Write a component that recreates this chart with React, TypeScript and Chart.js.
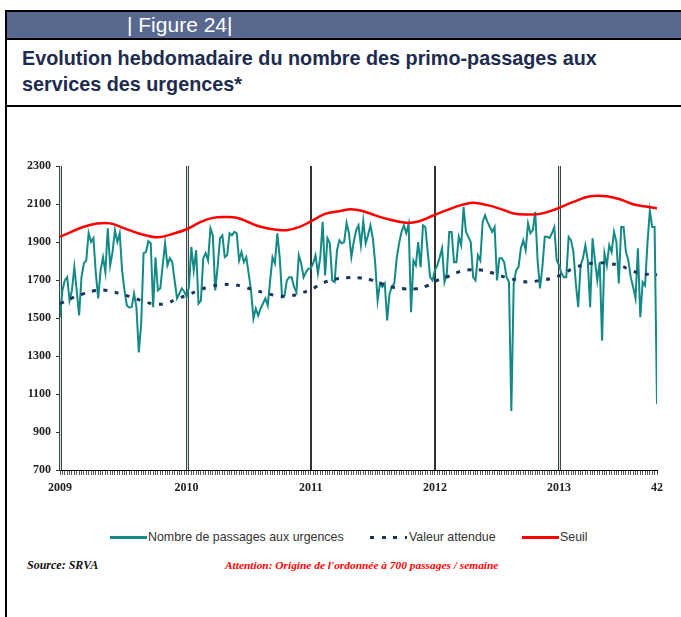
import React, { useEffect, useRef } from "react";
import { Chart, registerables } from "chart.js";

Chart.register(...registerables);

// ---- Data ----
const yearLabels = ["2009", "2010", "2011", "2012", "2013", "42"];
const yearTickWeeks = [0, 53, 105, 157, 209, 250];

const passages2009 = [
  1504, 1645, 1698, 1715, 1592, 1645, 1768, 1645, 1513, 1715, 1787, 1803, 1946, 1900, 1920, 1735, 1603, 1751, 1820, 1741,
  1972, 1777, 1847, 1962, 1900, 1946, 1751, 1645, 1566, 1555, 1557, 1629, 1557, 1319, 1471, 1841, 1847, 1904, 1893, 1557,
  1820, 1645, 1656, 1777, 1893, 1777, 1815, 1794, 1698, 1603, 1629, 1656, 1640,
];
const passages2010 = [
  1610, 1663, 1874, 1751, 1857, 1576, 1592, 1815, 1841, 1803, 1972, 1935, 1645, 1768, 1920, 1935, 1820, 1830, 1946, 1935,
  1953, 1946, 1803, 1847, 1794, 1820, 1735, 1645, 1497, 1550, 1513, 1550, 1576, 1603, 1566, 1698, 1820, 1787, 1946, 1820,
  1610, 1619, 1698, 1715, 1715, 1663, 1636, 1830, 1787, 1715, 1741, 1760,
];
const passages2011 = [
  1761, 1787, 1830, 1735, 1820, 2006, 1724, 1920, 1893, 1698, 1689, 1857, 1909, 1893, 1900, 2000, 1946, 1820, 1900, 1962,
  1988, 1883, 2011, 1893, 1935, 1988, 1920, 1787, 1592, 1682, 1663, 1682, 1487, 1629, 1663, 1682, 1815, 1893, 1953, 1988,
  1946, 1995, 1531, 1803, 1777, 1900, 1768, 1988, 1979, 1847, 1715, 1698,
];
const passages2012 = [
  1751, 1777, 1820, 1867, 1689, 1735, 1953, 1953, 1794, 1794, 1927, 1883, 2085, 1953, 1927, 1900, 1715, 1698, 1830, 1803,
  2006, 2041, 2006, 1979, 1953, 1979, 1698, 1815, 1815, 1794, 1715, 1689, 1011, 1682, 1751, 1768, 1867, 1909, 1857, 1998,
  1946, 1962, 2059, 1803, 1656, 1768, 1927, 1927, 1921, 1946, 1979, 1803,
];
const passages2013 = [
  1777, 1735, 1715, 1715, 1927, 1909, 1847, 1682, 1557, 1777, 1815, 1883, 1803, 1557, 1920, 1803, 1698, 1794, 1381, 1841,
  1777, 1883, 1847, 1953, 1900, 1682, 1979, 1979, 1847, 1803, 1715, 1663, 1603, 1867, 1504, 1689, 1671, 1893, 2064, 1979,
  1979, 1048,
];

const seuilWeeks = [0, 5, 10, 15, 21, 27, 33, 41, 48, 53, 59, 64, 69, 74, 79, 84, 90, 95, 100, 105, 111, 117, 122, 127, 132, 138, 145, 150, 156, 162, 168, 173, 179, 185, 190, 196, 201, 207, 215, 222, 229, 235, 240, 246, 250];
const seuilValues = [1927, 1955, 1980, 1996, 1998, 1972, 1945, 1925, 1946, 1967, 2006, 2027, 2032, 2028, 2004, 1980, 1966, 1962, 1978, 2008, 2048, 2062, 2073, 2062, 2040, 2018, 2001, 2008, 2038, 2068, 2094, 2106, 2094, 2072, 2050, 2045, 2048, 2070, 2111, 2141, 2141, 2122, 2099, 2085, 2078];

const attenduWeeks = [0, 6, 10, 15, 20, 25, 30, 34, 39, 44, 49, 53, 58, 63, 68, 73, 77, 82, 87, 92, 96, 101, 106, 110, 115, 120, 125, 130, 135, 139, 144, 149, 154, 158, 163, 168, 172, 177, 182, 187, 192, 196, 201, 206, 211, 215, 220, 225, 230, 235, 239, 244, 250];
const attenduValues = [1575, 1610, 1628, 1645, 1645, 1628, 1610, 1592, 1575, 1575, 1601, 1619, 1645, 1666, 1675, 1675, 1663, 1645, 1628, 1615, 1615, 1631, 1656, 1684, 1703, 1712, 1712, 1701, 1680, 1663, 1654, 1654, 1671, 1698, 1721, 1747, 1754, 1751, 1733, 1712, 1698, 1689, 1698, 1709, 1733, 1763, 1781, 1791, 1786, 1774, 1751, 1733, 1728];

const passages = [...passages2009, ...passages2010, ...passages2011, ...passages2012, ...passages2013];

const TEAL = "#138a86";
const NAVY = "#17365f";
const RED = "#ff0000";
const SERIF = "'Liberation Serif', 'Times New Roman', serif";

const yearLinesPlugin = {
  id: "yearLines",
  beforeDatasetsDraw(chart: any) {
    const { ctx, chartArea, scales } = chart;
    const { top, bottom } = chartArea;
    const doubles = [0, 53, 209];
    const singles = [105, 157];
    ctx.save();
    doubles.forEach((w) => {
      const px = Math.round(scales.x.getPixelForValue(w));
      ctx.fillStyle = "#3a4646";
      ctx.fillRect(px - 1, top, 3, bottom - top);
      ctx.fillStyle = "#cfe6e3";
      ctx.fillRect(px, top, 1, bottom - top);
    });
    singles.forEach((w) => {
      const px = Math.round(scales.x.getPixelForValue(w));
      ctx.fillStyle = "#333";
      ctx.fillRect(px - 1, top, 2, bottom - top);
    });
    ctx.restore();
  },
};

function ChartCanvas() {
  const ref = useRef<HTMLCanvasElement | null>(null);
  useEffect(() => {
    if (!ref.current) return;
    const chart = new Chart(ref.current, {
      type: "line",
      data: {
        datasets: [
          {
            label: "Valeur attendue",
            data: attenduWeeks.map((w, i) => ({ x: w, y: attenduValues[i] })),
            borderColor: NAVY,
            borderWidth: 3,
            borderDash: [4, 7.5],
            borderCapStyle: "butt",
            pointRadius: 0,
            tension: 0.4,
            fill: false,
          },
          {
            label: "Seuil",
            data: seuilWeeks.map((w, i) => ({ x: w, y: seuilValues[i] })),
            borderColor: RED,
            borderWidth: 2.5,
            pointRadius: 0,
            tension: 0.4,
            fill: false,
          },
          {
            label: "Nombre de passages aux urgences",
            data: passages.map((v, i) => ({ x: i, y: v })),
            borderColor: TEAL,
            borderWidth: 2,
            pointRadius: 0,
            tension: 0,
            fill: false,
          },
        ],
      },
      options: {
        responsive: false,
        animation: false,
        events: [],
        layout: { padding: { top: 56, right: 24, left: 0, bottom: 0 } },
        plugins: {
          legend: { display: false },
          tooltip: { enabled: false },
          title: { display: false },
        },
        scales: {
          x: {
            type: "linear",
            min: 0,
            max: 250,
            afterFit: (s: any) => {
              s.height = 40;
            },
            ticks: {
              stepSize: 1,
              autoSkip: false,
              maxRotation: 0,
              minRotation: 0,
              padding: 6,
              color: "#222",
              font: { family: SERIF, size: 12, weight: "bold" },
              callback: (v: any) => {
                const k = yearTickWeeks.indexOf(Number(v));
                return k >= 0 ? yearLabels[k] : "";
              },
            },
            grid: { display: true, drawOnChartArea: false, drawTicks: true, tickLength: 5, color: "#555", lineWidth: 1 },
            border: { display: true, color: "#000", width: 1 },
          },
          y: {
            min: 700,
            max: 2300,
            afterFit: (s: any) => {
              s.width = 60;
            },
            ticks: {
              stepSize: 200,
              padding: 5,
              color: "#222",
              font: { family: SERIF, size: 12, weight: "bold" },
              callback: (v: any) => String(v),
            },
            grid: { display: true, drawOnChartArea: false, drawTicks: true, tickLength: 4, color: "#333", lineWidth: 1 },
            border: { display: true, color: "#333", width: 1 },
          },
        },
      },
      plugins: [yearLinesPlugin],
    } as any);
    return () => chart.destroy();
  }, []);
  return (
    <canvas
      ref={ref}
      width={681}
      height={400}
      style={{ position: "absolute", left: 0, top: 110, width: 681, height: 400 }}
    />
  );
}

const abs = (o: any) => ({ position: "absolute" as const, ...o });

export default function App() {
  const legendText = { fontSize: 12.4, color: "#333", lineHeight: "16px", whiteSpace: "nowrap" as const };
  return (
    <div
      style={{
        position: "absolute",
        left: 0,
        top: 0,
        width: 681,
        height: 617,
        overflow: "hidden",
        background: "#fff",
        fontFamily: "'Liberation Sans', Arial, sans-serif",
      }}
    >
      <div style={abs({ left: 5, top: 10, width: 2, height: 607, background: "#000" })} />
      <div style={abs({ left: 5, top: 10, width: 676, height: 2, background: "#000" })} />
      <div style={abs({ left: 7, top: 12, width: 674, height: 26, background: "#58688f" })} />
      <div style={abs({ left: 127, top: 12, height: 26, lineHeight: "26px", fontSize: 21, color: "#fff", whiteSpace: "nowrap" })}>
        | Figure 24|
      </div>
      <div style={abs({ left: 5, top: 38, width: 676, height: 2, background: "#000" })} />
      <div
        style={abs({
          left: 22,
          top: 45,
          fontSize: 19.8,
          lineHeight: "26px",
          fontWeight: "bold",
          color: "#1d2b4f",
          whiteSpace: "nowrap",
        })}
      >
        Evolution hebdomadaire du nombre des primo-passages aux
        <br />
        services des urgences*
      </div>
      <div style={abs({ left: 5, top: 105, width: 676, height: 2, background: "#000" })} />

      <ChartCanvas />

      {/* Legend */}
      <div style={abs({ left: 110, top: 536, width: 37, height: 3, background: TEAL })} />
      <div style={abs({ left: 148, top: 529, ...legendText })}>Nombre de passages aux urgences</div>
      <div style={abs({ left: 370, top: 536, width: 37, height: 3, backgroundImage: `repeating-linear-gradient(to right, ${NAVY} 0 4px, transparent 4px 11.5px)` })} />
      <div style={abs({ left: 409, top: 529, ...legendText })}>Valeur attendue</div>
      <div style={abs({ left: 522, top: 536, width: 37, height: 3, background: RED })} />
      <div style={abs({ left: 560, top: 529, ...legendText })}>Seuil</div>

      {/* Source */}
      <div
        style={abs({
          left: 27,
          top: 557,
          fontFamily: SERIF,
          fontStyle: "italic",
          fontWeight: "bold",
          fontSize: 12,
          lineHeight: "16px",
          color: "#111",
          whiteSpace: "nowrap",
        })}
      >
        Source: SRVA
      </div>
      <div
        style={abs({
          left: 225,
          top: 557,
          fontFamily: SERIF,
          fontStyle: "italic",
          fontWeight: "bold",
          fontSize: 11.4,
          lineHeight: "16px",
          color: RED,
          whiteSpace: "nowrap",
        })}
      >
        Attention: Origine de l'ordonnée à 700 passages / semaine
      </div>
    </div>
  );
}
